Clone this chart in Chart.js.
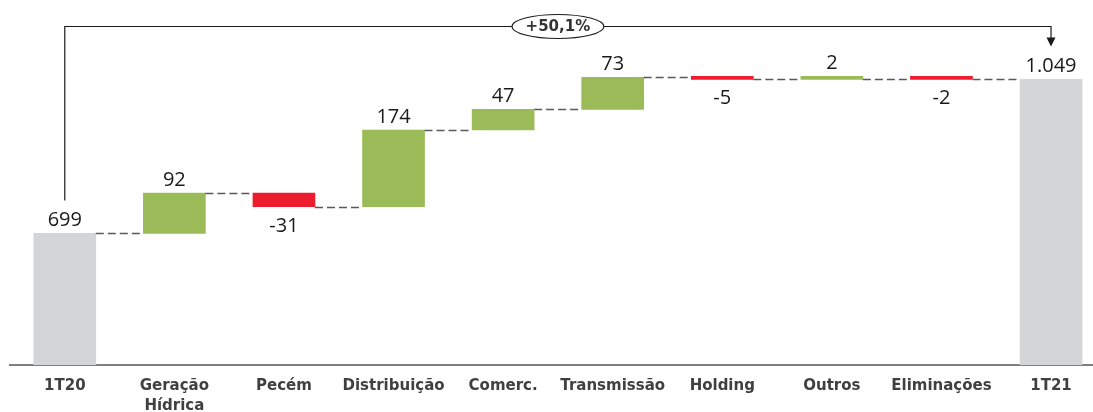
<!DOCTYPE html>
<html>
<head>
<meta charset="utf-8">
<script src="https://cdn.jsdelivr.net/npm/chart.js@4.4.1/dist/chart.umd.min.js"></script>
<style>
  html, body { margin: 0; padding: 0; background: #fff; }
  #wrap { width: 1093px; height: 412px; }
</style>
</head>
<body>
<div id="wrap"><canvas id="chart"></canvas></div>
<script>
// categories and values
const categories = ['1T20', ['Geração', 'Hídrica'], 'Pecém', 'Distribuição', 'Comerc.', 'Transmissão', 'Holding', 'Outros', 'Eliminações', '1T21'];
const values = [699, 92, -31, 174, 47, 73, -5, 2, -2, 1049];
const isTotal = [true, false, false, false, false, false, false, false, false, true];
const growthLabel = '+50,1%';

const GREY = '#D4D5D7';
const GREEN = '#9BBB59';
const RED = '#ED1C2E';

// floating bars: [start, end]
let running = 0;
const ranges = values.map((v, i) => {
  if (isTotal[i]) {
    running = v;
    return [400, v];
  }
  const start = running;
  running += v;
  return [start, running];
});
const levels = ranges.map(r => r[1]);   // level after each bar
const colors = values.map((v, i) => isTotal[i] ? GREY : (v >= 0 ? GREEN : RED));

function fmt(v) {
  return v.toLocaleString('pt-BR');
}

const waterfallDecor = {
  id: 'waterfallDecor',
  afterDatasetsDraw(chart) {
    const ctx = chart.ctx;
    const y = chart.scales.y;
    const bars = chart.getDatasetMeta(0).data;

    // dashed connectors
    ctx.save();
    ctx.strokeStyle = '#595959';
    ctx.lineWidth = 1.6;
    ctx.setLineDash([8, 4]);
    for (let i = 0; i < bars.length - 1; i++) {
      const a = bars[i], b = bars[i + 1];
      const py = Math.round(y.getPixelForValue(levels[i])) + 0.5;
      ctx.beginPath();
      ctx.moveTo(a.x + a.width / 2, py);
      ctx.lineTo(b.x - b.width / 2, py);
      ctx.stroke();
    }
    ctx.restore();

    // value labels
    ctx.save();
    ctx.font = '20px "Open Sans"';
    ctx.fillStyle = '#1a1a1a';
    ctx.textAlign = 'center';
    ctx.textBaseline = 'alphabetic';
    bars.forEach((bar, i) => {
      const top = Math.min(bar.y, bar.base);
      const bottom = Math.max(bar.y, bar.base);
      const v = values[i];
      if (isTotal[i] || v >= 0) {
        ctx.fillText(fmt(v), bar.x, top - 7);
      } else {
        ctx.fillText(fmt(v), bar.x, bottom + 25);
      }
    });
    ctx.restore();

    // growth bracket from first to last total
    const first = bars[0], last = bars[bars.length - 1];
    const by = chart.chartArea.top + 13.5;
    const leftEnd = y.getPixelForValue(values[0]) - 33;
    const tip = y.getPixelForValue(values[values.length - 1]) - 33;
    ctx.save();
    ctx.strokeStyle = '#1a1a1a';
    ctx.fillStyle = '#1a1a1a';
    ctx.lineWidth = 1.2;
    ctx.beginPath();
    ctx.moveTo(first.x, leftEnd);
    ctx.lineTo(first.x, by);
    ctx.lineTo(last.x, by);
    ctx.lineTo(last.x, tip - 8);
    ctx.stroke();
    ctx.beginPath();
    ctx.moveTo(last.x - 4.5, tip - 9);
    ctx.lineTo(last.x + 4.5, tip - 9);
    ctx.lineTo(last.x, tip);
    ctx.closePath();
    ctx.fill();

    const cx = (first.x + last.x) / 2;
    ctx.beginPath();
    ctx.ellipse(cx, by, 46, 12, 0, 0, Math.PI * 2);
    ctx.fillStyle = '#fff';
    ctx.fill();
    ctx.stroke();
    ctx.fillStyle = '#333';
    ctx.font = 'bold 15px "DejaVu Sans"';
    ctx.textAlign = 'center';
    ctx.textBaseline = 'middle';
    ctx.fillText(growthLabel, cx, by + 1);
    ctx.restore();
  }
};

new Chart(document.getElementById('chart'), {
  type: 'bar',
  data: {
    datasets: [{
      data: ranges.map((r, i) => ({ x: i, y: r })),
      backgroundColor: colors,
      borderWidth: 0,
      barThickness: 62,
      minBarLength: 3
    }]
  },
  options: {
    responsive: true,
    maintainAspectRatio: false,
    animation: false,
    layout: { padding: { left: 10, top: 13, right: 0, bottom: 0 } },
    plugins: { legend: { display: false }, tooltip: { enabled: false } },
    scales: {
      x: {
        type: 'linear',
        offset: false,
        min: -0.5,
        max: 9.383,
        grid: { display: false, drawTicks: false },
        border: { display: true, color: '#7f7f7f', width: 2 },
        afterBuildTicks(scale) {
          scale.ticks = categories.map((_, i) => ({ value: i }));
        },
        afterFit(scale) {
          scale.height = 47;
        },
        ticks: {
          autoSkip: false,
          maxRotation: 0,
          padding: 11,
          color: '#404040',
          font: { family: '"DejaVu Sans"', size: 15, weight: 'bold', lineHeight: 1.35 },
          callback: (v) => categories[v]
        }
      },
      y: {
        display: false,
        min: 400,
        max: 1200
      }
    }
  },
  plugins: [waterfallDecor]
});
</script>
</body>
</html>
